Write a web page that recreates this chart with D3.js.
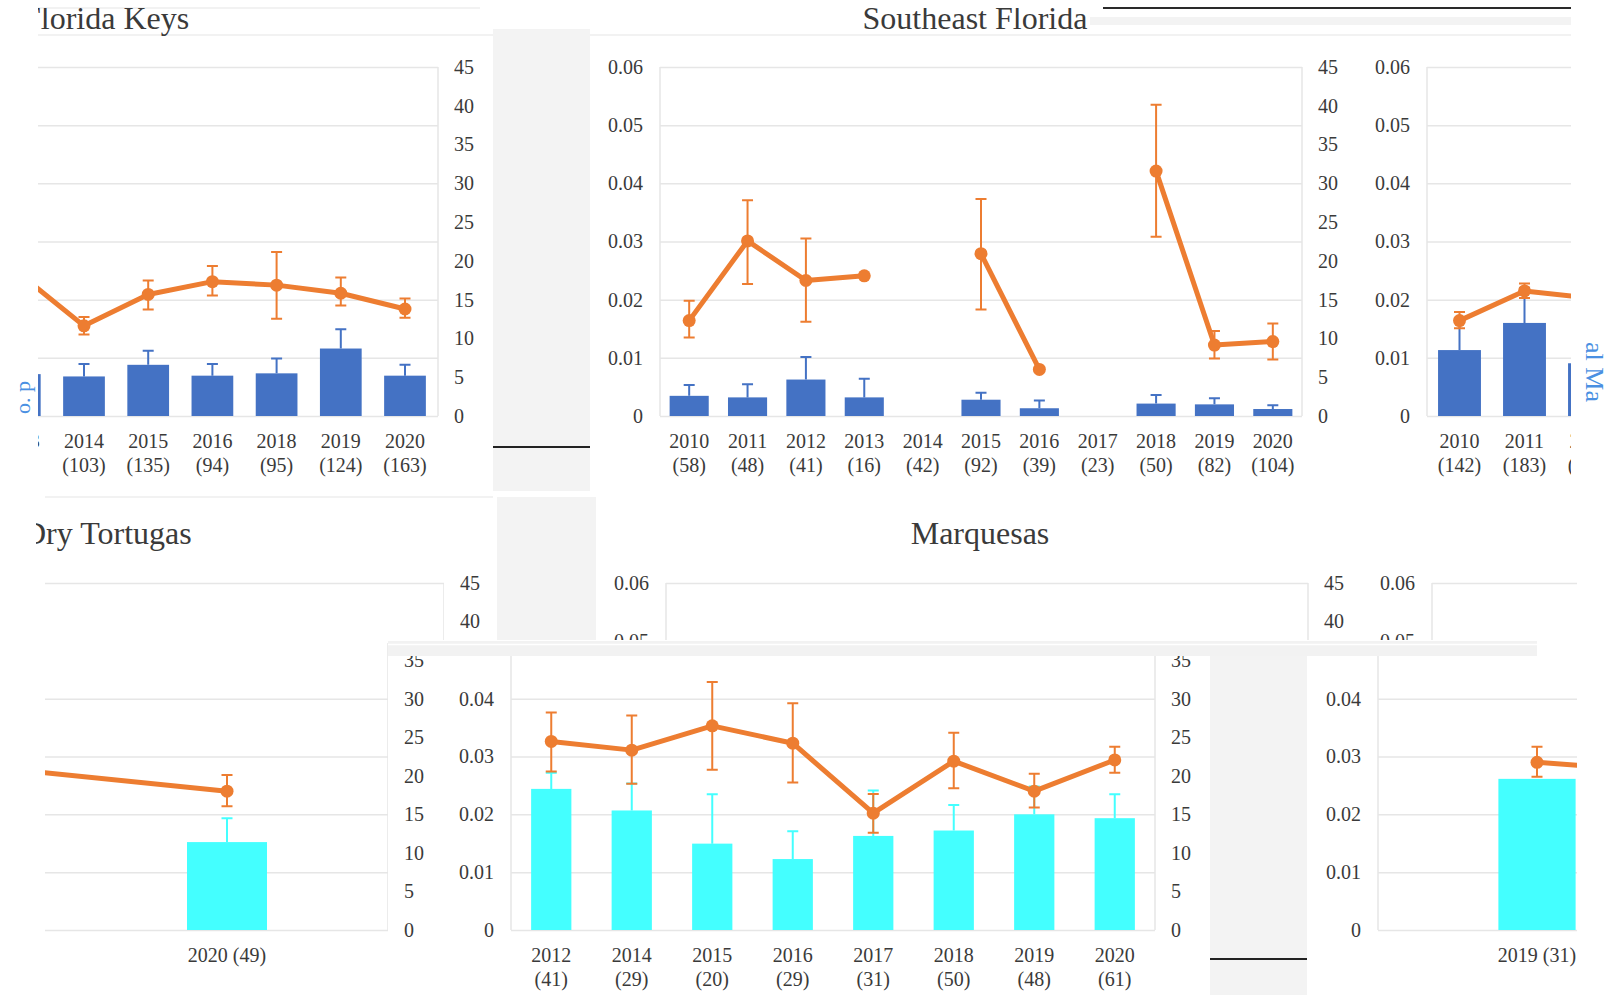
<!DOCTYPE html>
<html><head><meta charset="utf-8">
<script src="https://cdn.jsdelivr.net/npm/d3@7"></script>
<style>body{margin:0;background:#fff;}svg{display:block;}</style>
</head><body><svg id="c" width="1610" height="995"></svg>
<script>
// ---------- data ----------
const leftTicks = [0, 0.01, 0.02, 0.03, 0.04, 0.05, 0.06];
const rightTicks = [0, 5, 10, 15, 20, 25, 30, 35, 40, 45];

// Florida Keys
const fkYears = ["2013","2014","2015","2016","2018","2019","2020"];
const fkN = [null,103,135,94,95,124,163];
const fkBar = [5.4,5.1,6.6,5.2,5.5,8.7,5.2];
const fkBarErr = [7.0,6.7,8.4,6.7,7.4,11.2,6.6];
const fkLine = [0.0244,0.0155,0.0209,0.0231,0.0225,0.0211,0.0184];
const fkLineLo = [0.0215,0.0140,0.0183,0.0207,0.0167,0.0190,0.0169];
const fkLineHi = [0.0270,0.0170,0.0233,0.0258,0.0282,0.0238,0.0202];

// Southeast Florida
const seYears = ["2010","2011","2012","2013","2014","2015","2016","2017","2018","2019","2020"];
const seN = [58,48,41,16,42,92,39,23,50,82,104];
const seBar = [2.6,2.4,4.7,2.4,null,2.1,1.0,null,1.6,1.5,0.9];
const seBarErr = [4.0,4.1,7.6,4.8,null,3.0,2.0,null,2.7,2.3,1.4];
const seLine = [0.0164,0.0301,0.0233,0.0241,null,0.0279,0.0080,null,0.0421,0.0122,0.0128];
const seLineLo = [0.0135,0.0227,0.0162,null,null,0.0183,null,null,0.0308,0.0099,0.0097];
const seLineHi = [0.0198,0.0371,0.0305,null,null,0.0373,null,null,0.0535,0.0146,0.0159];

// third top panel (cut at right)
const p3Years = ["2010","2011","2012"];
const p3N = [142,183,151];
const p3Bar = [8.5,12.0,6.8];
const p3BarErr = [12.5,16.5,9.0];
const p3Line = [0.0164,0.0215,0.0203];
const p3LineLo = [0.0151,0.0203,null];
const p3LineHi = [0.0179,0.0228,null];

// Dry Tortugas
const dtYears = ["2019","2020"];
const dtLabels = ["","2020 (49)"];
const dtBar = [null,11.4];
const dtBarErr = [null,14.5];
const dtLine = [0.0275,0.0240];
const dtLineLo = [null,0.0214];
const dtLineHi = [null,0.0268];

// Marquesas
const mqYears = ["2012","2014","2015","2016","2017","2018","2019","2020"];
const mqN = [41,29,20,29,31,50,48,61];
const mqBar = [18.3,15.5,11.2,9.2,12.2,12.9,15.0,14.5];
const mqBarErr = [20.4,19.0,17.6,12.8,18.1,16.2,18.6,17.6];
const mqLine = [0.0326,0.0311,0.0353,0.0323,0.0202,0.0292,0.0240,0.0294];
const mqLineLo = [0.0274,0.0253,0.0277,0.0255,0.0168,0.0245,0.0212,0.0272];
const mqLineHi = [0.0376,0.0371,0.0429,0.0392,0.0235,0.0341,0.0270,0.0317];

// lower right panel (cut at right)
const pfYears = ["2019","2020"];
const pfLabels = ["2019 (31)",""];
const pfBar = [19.6,null];
const pfBarErr = [null,null];
const pfLine = [0.0290,0.0275];
const pfLineLo = [0.0265,null];
const pfLineHi = [0.0317,null];

// ---------- style ----------
const BLUE = "#4472C4", ORANGE = "#ED7D31", CYAN = "#44FFFF";
const GRID = "#e6e6e6", TXT = "#3a3a3a", GRAY = "#f3f3f3";
const FONT = "'Liberation Serif','Times New Roman',serif";

const svg = d3.select("#c");
const defs = svg.append("defs");
let cid = 0;
function clip(r) {
  const id = "cp" + (cid++);
  defs.append("clipPath").attr("id", id).append("rect")
    .attr("x", r[0]).attr("y", r[1]).attr("width", r[2]).attr("height", r[3]);
  return "url(#" + id + ")";
}

function panel(cfg) {
  const [kx, ky, kw, kh] = cfg.clip;
  const inY = y => y >= ky - 10 && y <= ky + kh + 10;
  const inX = (a, b) => b >= kx && a <= kx + kw;
  const root = svg.append("g").attr("clip-path", clip(cfg.clip));
  const yL = d3.scaleLinear().domain([0, 0.06]).range([cfg.y0, cfg.yTop]);
  const yR = d3.scaleLinear().domain([0, 45]).range([cfg.y0, cfg.yTop]);
  const x = d3.scaleBand().domain(cfg.cats).range(cfg.xRange);
  const bw = x.bandwidth(), barW = bw * cfg.barFrac;
  const cx = c => x(c) + bw / 2;
  const rows = cfg.cats.map((c, i) => ({c, bar: cfg.bar[i], be: cfg.barErr[i], v: cfg.line[i], lo: cfg.lo[i], hi: cfg.hi[i]}));

  if (cfg.title) root.append("text").attr("x", cfg.title.x).attr("y", cfg.title.y)
    .attr("text-anchor", cfg.title.anchor).attr("font-family", FONT).attr("font-size", 32)
    .attr("fill", TXT).text(cfg.title.text);

  const mk = root.append("g").attr("clip-path", clip(cfg.markClip || cfg.clip));
  // gridlines
  mk.append("g").attr("transform", `translate(${cfg.plotL},0)`)
    .call(d3.axisRight(yL).tickValues(leftTicks).tickSize(cfg.plotR - cfg.plotL).tickFormat(""))
    .call(g => g.select(".domain").remove())
    .selectAll("line").attr("stroke", GRID).attr("stroke-width", 1.5);
  if (cfg.leftLine) mk.append("line").attr("x1", cfg.plotL).attr("x2", cfg.plotL)
    .attr("y1", yL(0.06)).attr("y2", yL(0)).attr("stroke", GRID).attr("stroke-width", 1.5);
  if (cfg.rightLine) mk.append("line").attr("x1", cfg.plotR).attr("x2", cfg.plotR)
    .attr("y1", yL(0.06)).attr("y2", yL(0)).attr("stroke", GRID).attr("stroke-width", 1.5);

  // bars
  mk.selectAll("rect.bar").data(rows.filter(d => d.bar != null)).join("rect")
    .attr("x", d => cx(d.c) - barW / 2).attr("width", barW)
    .attr("y", d => yR(d.bar)).attr("height", d => yR(0) - yR(d.bar)).attr("fill", cfg.barColor);
  const be = rows.filter(d => d.bar != null && d.be != null);
  mk.selectAll("path.be").data(be).join("path")
    .attr("d", d => `M${cx(d.c)},${yR(d.bar)}V${yR(d.be)}M${cx(d.c)-5.5},${yR(d.be)}H${cx(d.c)+5.5}`)
    .attr("stroke", cfg.barColor).attr("stroke-width", 2).attr("fill", "none");

  // line
  const line = d3.line().defined(d => d.v != null).x(d => cx(d.c)).y(d => yL(d.v));
  mk.append("path").datum(rows).attr("d", line).attr("fill", "none")
    .attr("stroke", ORANGE).attr("stroke-width", 5).attr("stroke-linejoin", "round");
  mk.selectAll("path.le").data(rows.filter(d => d.lo != null)).join("path")
    .attr("d", d => `M${cx(d.c)},${yL(d.lo)}V${yL(d.hi)}M${cx(d.c)-5.5},${yL(d.hi)}H${cx(d.c)+5.5}M${cx(d.c)-5.5},${yL(d.lo)}H${cx(d.c)+5.5}`)
    .attr("stroke", ORANGE).attr("stroke-width", 2).attr("fill", "none");
  mk.selectAll("circle").data(rows.filter(d => d.v != null)).join("circle")
    .attr("cx", d => cx(d.c)).attr("cy", d => yL(d.v)).attr("r", 6.5).attr("fill", ORANGE);

  // axis labels (only those that fall inside this panel's visible window)
  const styleAxis = g => {
    g.select(".domain").remove();
    g.attr("font-family", FONT).attr("font-size", 20);
    g.selectAll("text").attr("fill", TXT);
  };
  if (cfg.leftLabels && inX(cfg.plotL - 60, cfg.plotL - 17)) root.append("g").attr("transform", `translate(${cfg.plotL},0)`)
    .call(d3.axisLeft(yL).tickValues(leftTicks.filter(v => inY(yL(v)))).tickSize(0).tickPadding(17)
      .tickFormat(d => d === 0 ? "0" : d3.format(".2f")(d))).call(styleAxis);
  if (cfg.rightLabels && inX(cfg.plotR + 16, cfg.plotR + 40)) root.append("g").attr("transform", `translate(${cfg.plotR},0)`)
    .call(d3.axisRight(yR).tickValues(rightTicks.filter(v => inY(yR(v)))).tickSize(0).tickPadding(16)).call(styleAxis);

  // category labels
  if (cfg.catLabels && inY(cfg.y0 + 32)) {
    const lg = root.append("g").attr("font-family", FONT).attr("font-size", 20)
      .attr("fill", TXT).attr("text-anchor", "middle");
    cfg.cats.forEach((c, i) => {
      const lab = cfg.catLabels[i];
      const p = cx(c);
      if (!inX(p - 22, p + 22)) return;
      if (Array.isArray(lab)) {
        if (lab[0]) lg.append("text").attr("x", p).attr("y", cfg.y0 + 32).text(lab[0]);
        if (lab[1]) lg.append("text").attr("x", p).attr("y", cfg.y0 + 56).text(lab[1]);
      } else if (lab) {
        lg.append("text").attr("x", p).attr("y", cfg.y0 + 32).text(lab);
      }
    });
  }
}
const two = (years, ns) => years.map((y, i) => [y, ns[i] == null ? "" : "(" + ns[i] + ")"]);

// ---------- layout decorations ----------
function rect(x, y, w, h, f) { svg.append("rect").attr("x", x).attr("y", y).attr("width", w).attr("height", h).attr("fill", f); }
function hline(x1, x2, y, c, w) { svg.append("line").attr("x1", x1).attr("x2", x2).attr("y1", y).attr("y2", y).attr("stroke", c).attr("stroke-width", w); }

hline(38, 480, 8, "#eeeeee", 1.5);
hline(38, 493, 35, "#eeeeee", 1.5);
hline(590, 1571, 35, "#eeeeee", 1.5);
hline(45, 493, 497, "#eeeeee", 1.5);
rect(1090, 17, 481, 8, GRAY);
hline(1103, 1571, 8, "#2a2a2a", 2);

// ---------- top row ----------
panel({clip:[38,8,455,489], markClip:[38,36,455,461], cats: fkYears, xRange:[-12.3,437.1],
  plotL:-20, plotR:438, y0:416, yTop:67, barFrac:0.65, barColor:BLUE,
  bar: fkBar, barErr: fkBarErr, line: fkLine, lo: fkLineLo, hi: fkLineHi,
  rightLabels:true, rightLine:true, catLabels: two(fkYears, fkN),
  title:{text:"Florida Keys", x:23, y:29, anchor:"start"}});

panel({clip:[590,8,775,489], cats: seYears, xRange:[660,1302],
  plotL:660, plotR:1302, y0:416, yTop:67, barFrac:0.67, barColor:BLUE,
  bar: seBar, barErr: seBarErr, line: seLine, lo: seLineLo, hi: seLineHi,
  leftLabels:true, rightLabels:true, leftLine:true, rightLine:true, catLabels: two(seYears, seN),
  title:{text:"Southeast Florida", x:975, y:29, anchor:"middle"}});

panel({clip:[1365,8,206,489], cats: p3Years, xRange:[1427,1622],
  plotL:1427, plotR:1700, y0:416, yTop:67, barFrac:0.66, barColor:BLUE,
  bar: p3Bar, barErr: p3BarErr, line: p3Line, lo: p3LineLo, hi: p3LineHi,
  leftLabels:true, leftLine:true, catLabels: two(p3Years, p3N)});

rect(493, 29, 97, 462, GRAY);
hline(493, 590, 447, "#222", 2);

// axis-title fragments at the edges
svg.append("g").attr("clip-path", clip([0,355,36,62])).append("text")
  .attr("transform", "translate(30,414) rotate(-90)").attr("font-family", FONT)
  .attr("font-size", 22).attr("fill", "#4A90E2").text("o. p");
svg.append("g").attr("clip-path", clip([1575,335,35,85])).append("text")
  .attr("transform", "translate(1586,342) rotate(90)").attr("font-family", FONT)
  .attr("font-size", 26).attr("fill", "#4A90E2").text("al Ma");

// ---------- bottom row, upper strip ----------
panel({clip:[36,498,461,142], markClip:[45,498,399,142], cats: dtYears, xRange:[-73,327],
  plotL:45, plotR:444, y0:930, yTop:583, barFrac:0.4, barColor:CYAN,
  bar: dtBar, barErr: dtBarErr, line: dtLine, lo: dtLineLo, hi: dtLineHi,
  rightLabels:true, rightLine:true,
  title:{text:"Dry Tortugas", x:23, y:544, anchor:"start"}});

panel({clip:[596,498,769,142], cats: mqYears, xRange:[666,1308],
  plotL:666, plotR:1308, y0:930, yTop:583, barFrac:0.5, barColor:CYAN,
  bar: mqBar, barErr: mqBarErr, line: mqLine, lo: mqLineLo, hi: mqLineHi,
  leftLabels:true, rightLabels:true, leftLine:true, rightLine:true,
  title:{text:"Marquesas", x:980, y:544, anchor:"middle"}});

panel({clip:[1365,498,212,142], cats: pfYears, xRange:[1532.5,1766.5],
  plotL:1432, plotR:1700, y0:930, yTop:583, barFrac:0.66, barColor:CYAN,
  bar: pfBar, barErr: pfBarErr, line: pfLine, lo: pfLineLo, hi: pfLineHi,
  leftLabels:true, leftLine:true});

rect(497, 497, 99, 143, GRAY);

// ---------- bottom row, lower strip ----------
panel({clip:[36,643,409,352], markClip:[45,643,343,352], cats: dtYears, xRange:[-73,327],
  plotL:45, plotR:388, y0:930, yTop:583, barFrac:0.4, barColor:CYAN,
  bar: dtBar, barErr: dtBarErr, line: dtLine, lo: dtLineLo, hi: dtLineHi,
  rightLabels:true, rightLine:true, catLabels: dtLabels});

panel({clip:[445,656,765,339], cats: mqYears, xRange:[511,1155],
  plotL:511, plotR:1155, y0:930, yTop:583, barFrac:0.5, barColor:CYAN,
  bar: mqBar, barErr: mqBarErr, line: mqLine, lo: mqLineLo, hi: mqLineHi,
  leftLabels:true, rightLabels:true, leftLine:true, rightLine:true, catLabels: two(mqYears, mqN)});

panel({clip:[1307,656,270,339], cats: pfYears, xRange:[1478.5,1712.5],
  plotL:1378, plotR:1700, y0:930, yTop:583, barFrac:0.66, barColor:CYAN,
  bar: pfBar, barErr: pfBarErr, line: pfLine, lo: pfLineLo, hi: pfLineHi,
  leftLabels:true, leftLine:true, catLabels: pfLabels});

rect(1210, 656, 97, 339, GRAY);
hline(1210, 1307, 959, "#222", 2);
rect(388, 641, 1149, 15, "#f2f2f2");
hline(388, 1537, 644.5, "#ffffff", 1.5);
</script></body></html>
